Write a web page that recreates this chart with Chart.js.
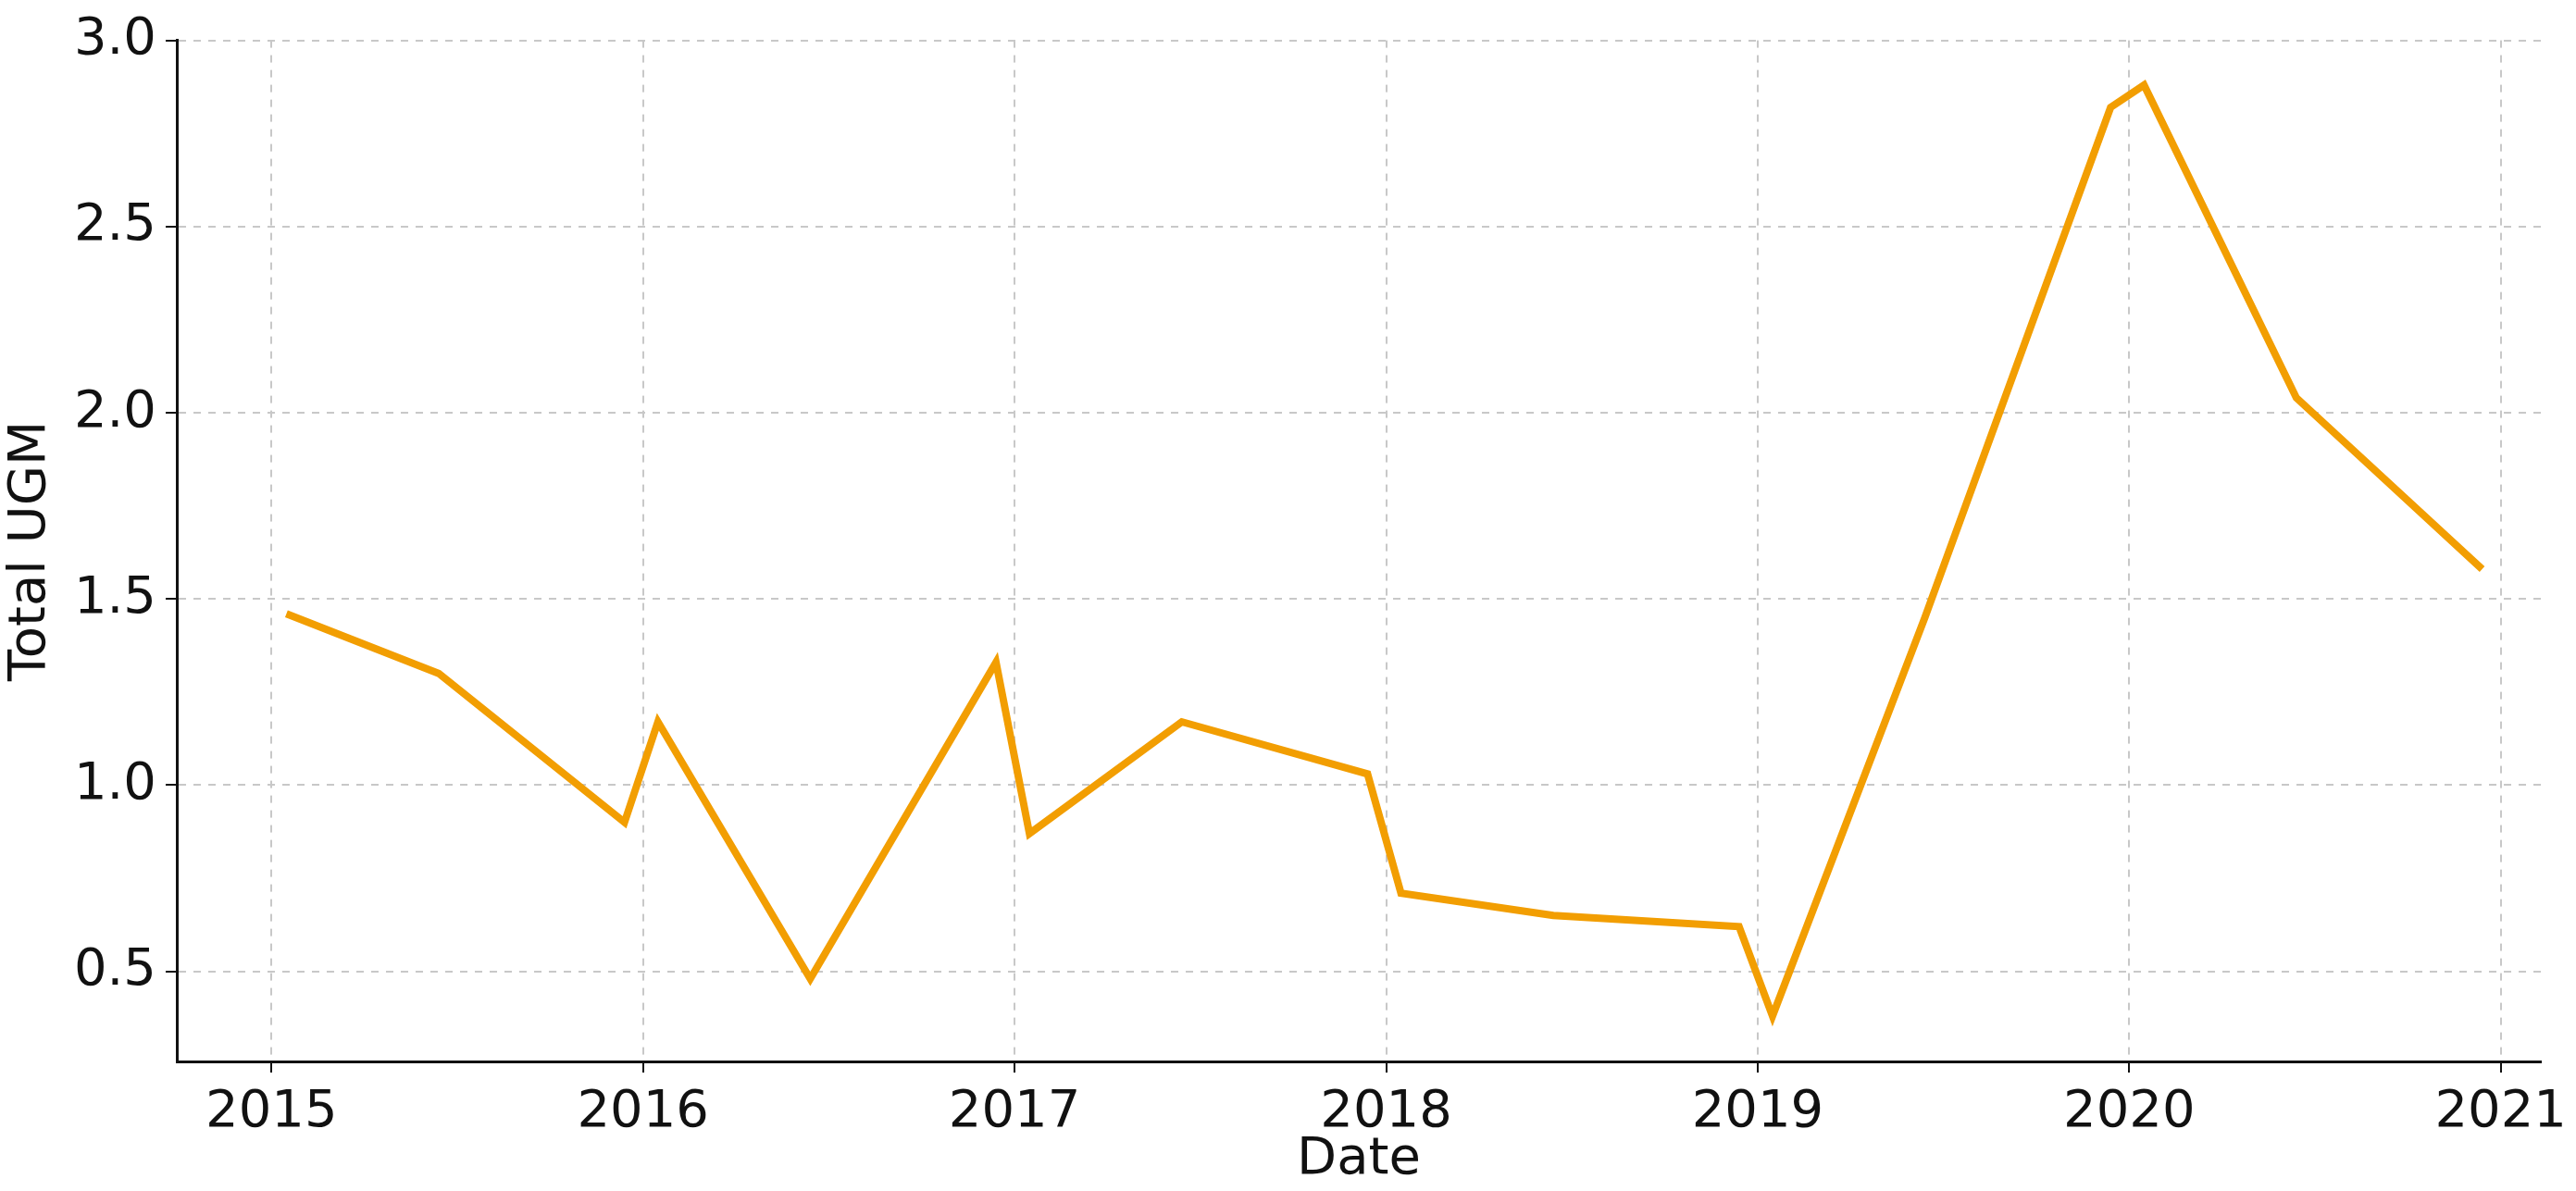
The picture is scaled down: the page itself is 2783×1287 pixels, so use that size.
<!DOCTYPE html>
<html><head><meta charset="utf-8">
<script src="https://cdn.jsdelivr.net/npm/chart.js@4/dist/chart.umd.min.js"></script>
<style>html,body{margin:0;padding:0;background:#fff}#w{width:2783px;height:1287px}</style>
</head><body><div id="w"><canvas id="c"></canvas></div>
<script>
const dates = [2015.04,2015.45,2015.95,2016.04,2016.45,2016.95,2017.04,2017.45,2017.95,2018.04,2018.45,2018.95,2019.04,2019.45,2019.95,2020.04,2020.45,2020.95];
const values = [1.46,1.30,0.90,1.17,0.48,1.33,0.87,1.17,1.03,0.71,0.65,0.62,0.38,1.45,2.82,2.88,2.04,1.58];
const yTicks = [0.5,1.0,1.5,2.0,2.5,3.0];
const xTicks = [2015,2016,2017,2018,2019,2020,2021];
const font = {family:'DejaVu Sans', size:56};
new Chart(document.getElementById('c'), {
  type:'line',
  data:{datasets:[{data:dates.map((d,i)=>({x:d,y:values[i]})), borderColor:'#f29e02', borderWidth:8, pointRadius:0, tension:0}]},
  options:{
    responsive:true, maintainAspectRatio:false, animation:false, devicePixelRatio:1,
    layout:{padding:{top:37,right:5,left:0,bottom:0}},
    plugins:{legend:{display:false},tooltip:{enabled:false}},
    scales:{
      x:{type:'linear', min:2014.745, max:2021.108,
        afterBuildTicks:s=>{s.ticks=xTicks.map(v=>({value:v}));},
        afterFit:s=>{s.height=140;},
        ticks:{font, color:'#111', callback:v=>String(v), padding:10},
        grid:{color:'#c8c8c8', lineWidth:2, tickLength:12, tickColor:'#111', tickBorderDash:[]},
        border:{display:true, color:'#111', width:3, dash:[8,8]},
        title:{display:true, text:'Date', font, color:'#111', padding:{top:0,bottom:0}}
      },
      y:{min:0.258, max:3.0,
        afterBuildTicks:s=>{s.ticks=yTicks.map(v=>({value:v}));},
        afterFit:s=>{s.width=191;},
        ticks:{font, color:'#111', callback:v=>v.toFixed(1), padding:10},
        grid:{color:'#c8c8c8', lineWidth:2, tickLength:12, tickColor:'#111', tickBorderDash:[]},
        border:{display:true, color:'#111', width:3, dash:[8,8]},
        title:{display:true, text:'Total UGM', font, color:'#111', padding:{top:0,bottom:4}}
      }
    }
  }
});
</script></body></html>
